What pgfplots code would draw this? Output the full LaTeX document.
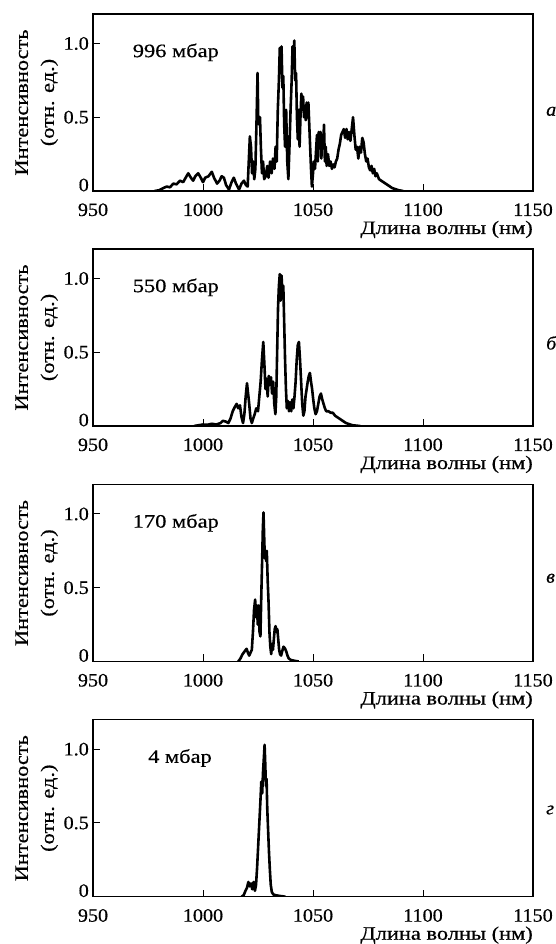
\documentclass[border=0pt]{standalone}
\usepackage{fontspec}
\setmainfont{Liberation Serif}[FakeStretch=1.06, FakeBold=0.5]
\newfontfamily\wide{Liberation Serif}[FakeStretch=1.18, FakeBold=0.5]
\usepackage{pgfplots}
\pgfplotsset{compat=1.18}

\pgfplotsset{
  panel/.style={
    scale only axis, width=440pt, height=177pt,
    xmin=950, xmax=1150, ymin=0, ymax=1.2,
    xtick={950,1000,1050,1100,1150},
    xticklabels={950,1000,1050,1100,1150},
    ytick={0,0.5,1},
    yticklabels={\raisebox{6pt}[\height][\depth]{0},0.5,1.0},
    tick align=inside, xtick pos=left, ytick pos=left,
    major tick length=7pt,
    every tick/.style={black, line width=1pt},
    axis line style={black, line width=1.3pt},
    tick label style={font=\fontsize{19}{22}\selectfont, black},
    xticklabel style={anchor=base, inner sep=0pt, yshift=-25pt},
    yticklabel style={anchor=east, inner sep=0pt, xshift=-4pt},
    xlabel={\wide Длина волны (нм)},
    every axis x label/.style={at={(axis description cs:1,-0.243)}, anchor=base east, inner sep=0pt, font=\fontsize{19}{22}\selectfont},
    ylabel={\wide Интенсивность\\\wide(отн. ед.)},
    every axis y label/.style={at={(axis description cs:-0.128,0.5)}, rotate=90, anchor=center, align=center, inner sep=0pt, font=\fontsize{19}{26}\selectfont},
    clip mode=individual,
  },
}
\tikzset{
  spec/.style={black, line width=2.6pt, line join=round},
  lett/.style={anchor=west, inner sep=0pt, font=\fontsize{19}{22}\selectfont\itshape},
  mb/.style={anchor=west, inner sep=0pt, font=\fontsize{19}{22}\selectfont\wide},
}

\begin{document}
\begin{tikzpicture}
\useasboundingbox (0,0) rectangle (555pt,944pt);

% ---------- a: 996 mbar ----------
\begin{axis}[panel, at={(93pt,753pt)}, anchor=south west]
\addplot[spec, mark=none] coordinates {
(978,0) (980,0.005) (982,0.02) (983.5,0.03) (985,0.025) (986.5,0.05) (988,0.045) (989.5,0.07)
(991,0.06) (992.5,0.1) (993.3,0.12) (994.5,0.09) (995.5,0.07) (996.5,0.1) (997.8,0.12) (999,0.09)
(1000,0.06) (1001,0.09) (1002.5,0.1) (1004,0.13) (1005,0.09) (1006.4,0.05) (1007.5,0.07) (1008.5,0.1)
(1009.5,0.09) (1010.5,0.04) (1011.8,0.01) (1013,0.06) (1014,0.09) (1015,0.05) (1016.4,0.01) (1017.5,0.05)
(1018.6,0.07) (1019.5,0.04) (1020.3,0.03) (1020.8,0.2) (1021.3,0.37) (1021.8,0.3) (1022.3,0.12) (1022.8,0.2)
(1023.3,0.08) (1023.8,0.15) (1024.3,0.45) (1024.8,0.8) (1025.1,0.5) (1025.5,0.45) (1025.9,0.5) (1026.3,0.3)
(1026.8,0.12) (1027.3,0.2) (1027.8,0.08) (1028.5,0.1) (1029.2,0.17) (1029.8,0.09) (1030.5,0.2) (1031.2,0.12)
(1031.8,0.22) (1032.5,0.15) (1033,0.3) (1033.5,0.2) (1034,0.55) (1034.5,0.75) (1034.9,0.97) (1035.3,0.8)
(1035.7,0.98) (1036.1,0.7) (1036.5,0.78) (1036.9,0.45) (1037.3,0.3) (1037.8,0.55) (1038.3,0.2) (1038.8,0.08)
(1039.3,0.3) (1039.8,0.55) (1040.3,0.75) (1040.7,0.98) (1041.1,0.85) (1041.5,1.02) (1041.9,0.75) (1042.3,0.8)
(1042.7,0.5) (1043.1,0.35) (1043.5,0.55) (1043.9,0.3) (1044.3,0.5) (1044.7,0.66) (1045.1,0.6) (1045.5,0.64)
(1045.9,0.5) (1046.3,0.55) (1046.7,0.48) (1047.1,0.6) (1047.5,0.5) (1047.9,0.6) (1048.3,0.45) (1048.7,0.3)
(1049.1,0.15) (1049.5,0.03) (1049.9,0.1) (1050.4,0.2) (1050.9,0.15) (1051.3,0.25) (1051.8,0.38) (1052.2,0.2)
(1052.6,0.4) (1053,0.3) (1053.4,0.4) (1053.8,0.22) (1054.2,0.38) (1054.6,0.3) (1055,0.45) (1055.4,0.2)
(1055.8,0.3) (1056.2,0.17) (1056.8,0.25) (1057.4,0.17) (1058,0.2) (1058.6,0.15) (1059.2,0.18) (1059.8,0.16)
(1060.4,0.2) (1061,0.22) (1061.6,0.28) (1062.2,0.32) (1062.8,0.38) (1063.4,0.4) (1064,0.42) (1064.6,0.36)
(1065.2,0.42) (1065.8,0.35) (1066.4,0.4) (1067,0.34) (1067.6,0.42) (1068.2,0.5) (1068.8,0.38) (1069.4,0.28)
(1070,0.3) (1070.6,0.22) (1071.2,0.3) (1071.8,0.26) (1072.4,0.36) (1073,0.33) (1073.6,0.25) (1074.2,0.2)
(1074.8,0.22) (1075.4,0.16) (1076,0.14) (1076.6,0.17) (1077.2,0.12) (1077.8,0.15) (1078.4,0.1) (1079,0.12)
(1080,0.08) (1081,0.07) (1082,0.06) (1083,0.05) (1084,0.04) (1085,0.03) (1086,0.02) (1087,0.015)
(1088,0.01) (1089,0.005) (1091,0)
};
\node[mb] at (axis cs:968,0.94) {996 мбар};
\node[lett] at (axis description cs:1.0295,0.45) {а};
\end{axis}

% ---------- b: 550 mbar ----------
\begin{axis}[panel, at={(93pt,518pt)}, anchor=south west]
\addplot[spec, mark=none] coordinates {
(996,0) (998,0.005) (1000,0.01) (1002,0.008) (1004,0.015) (1006,0.01) (1008,0.02) (1009,0.035)
(1010.4,0.03) (1011.5,0.02) (1012.5,0.05) (1013.5,0.1) (1014.5,0.13) (1015.3,0.15) (1016,0.12) (1016.8,0.14)
(1017.5,0.06) (1018.2,0.02) (1018.8,0.08) (1019.4,0.2) (1020,0.29) (1020.5,0.22) (1021,0.15) (1021.6,0.05)
(1022.2,0.02) (1022.8,0.05) (1023.5,0.08) (1024.2,0.12) (1025,0.1) (1025.6,0.2) (1026.2,0.3) (1026.8,0.45)
(1027.4,0.57) (1027.9,0.42) (1028.4,0.25) (1028.9,0.32) (1029.4,0.2) (1029.9,0.34) (1030.4,0.28) (1030.9,0.33)
(1031.4,0.22) (1031.9,0.3) (1032.4,0.15) (1032.9,0.08) (1033.3,0.2) (1033.7,0.5) (1034.1,0.8) (1034.5,0.95)
(1034.9,1.03) (1035.3,0.85) (1035.7,1.02) (1036.1,0.9) (1036.5,0.95) (1036.9,0.7) (1037.3,0.45) (1037.7,0.25)
(1038.1,0.12) (1038.6,0.17) (1039.1,0.1) (1039.6,0.16) (1040.1,0.1) (1040.6,0.18) (1041.1,0.12) (1041.6,0.2)
(1042.1,0.3) (1042.6,0.45) (1043.1,0.55) (1043.6,0.57) (1044.1,0.45) (1044.6,0.3) (1045.1,0.15) (1045.6,0.07)
(1046.1,0.1) (1046.6,0.2) (1047.1,0.25) (1047.6,0.3) (1048.1,0.34) (1048.6,0.36) (1049.1,0.3) (1049.6,0.25)
(1050.1,0.18) (1050.6,0.12) (1051.2,0.08) (1051.8,0.1) (1052.4,0.15) (1053,0.2) (1053.6,0.22) (1054.2,0.18)
(1054.8,0.15) (1055.4,0.12) (1056,0.1) (1057,0.1) (1058,0.09) (1059,0.09) (1060,0.07) (1061,0.06)
(1062,0.05) (1063,0.04) (1064,0.03) (1065,0.02) (1066,0.015) (1067,0.01) (1068,0.005) (1070,0.002) (1071.5,0)
};
\node[mb] at (axis cs:968,0.94) {550 мбар};
\node[lett] at (axis description cs:1.0295,0.47) {б};
\end{axis}

% ---------- c: 170 mbar ----------
\begin{axis}[panel, at={(93pt,282.5pt)}, anchor=south west]
\addplot[spec, mark=none] coordinates {
(1016,0) (1017,0.02) (1018,0.05) (1019,0.07) (1019.8,0.086) (1020.4,0.06) (1021,0.04) (1021.6,0.06)
(1022.2,0.08) (1022.7,0.2) (1023.2,0.35) (1023.7,0.42) (1024.1,0.3) (1024.5,0.38) (1024.9,0.25) (1025.3,0.38)
(1025.7,0.2) (1026.1,0.17) (1026.5,0.45) (1026.9,0.7) (1027.2,0.9) (1027.5,1.01) (1027.8,0.85) (1028.1,0.7)
(1028.4,0.75) (1028.7,0.68) (1029,0.75) (1029.4,0.55) (1029.8,0.4) (1030.2,0.2) (1030.6,0.1) (1031,0.05)
(1031.4,0.12) (1031.8,0.08) (1032.2,0.15) (1032.6,0.22) (1033,0.24) (1033.4,0.2) (1033.8,0.22) (1034.2,0.15)
(1034.6,0.08) (1035,0.05) (1035.5,0.04) (1036,0.07) (1036.6,0.1) (1037.2,0.09) (1037.8,0.07) (1038.4,0.04)
(1039,0.02) (1040,0.01) (1041.5,0.005) (1043.5,0)
};
\node[mb] at (axis cs:968,0.94) {170 мбар};
\node[lett] at (axis description cs:1.0295,0.47) {в};
\end{axis}

% ---------- d: 4 mbar ----------
\begin{axis}[panel, at={(93pt,47.3pt)}, anchor=south west]
\addplot[spec, mark=none] coordinates {
(1017.5,0) (1018.5,0.01) (1019.3,0.04) (1020,0.06) (1020.6,0.1) (1021.2,0.07) (1021.8,0.09) (1022.4,0.05)
(1023,0.1) (1023.6,0.04) (1024.1,0.08) (1024.6,0.2) (1025.1,0.35) (1025.6,0.5) (1026.1,0.65) (1026.5,0.78)
(1026.9,0.7) (1027.3,0.85) (1027.7,0.95) (1028,1.03) (1028.3,0.9) (1028.6,0.75) (1028.9,0.8) (1029.2,0.6)
(1029.6,0.45) (1030,0.3) (1030.4,0.18) (1030.8,0.08) (1031.3,0.03) (1032,0.015) (1033,0.01) (1035,0.005) (1037.5,0)
};
\node[mb] at (axis cs:975,0.94) {4 мбар};
\node[lett] at (axis description cs:1.0295,0.49) {г};
\end{axis}
\end{tikzpicture}
\end{document}
